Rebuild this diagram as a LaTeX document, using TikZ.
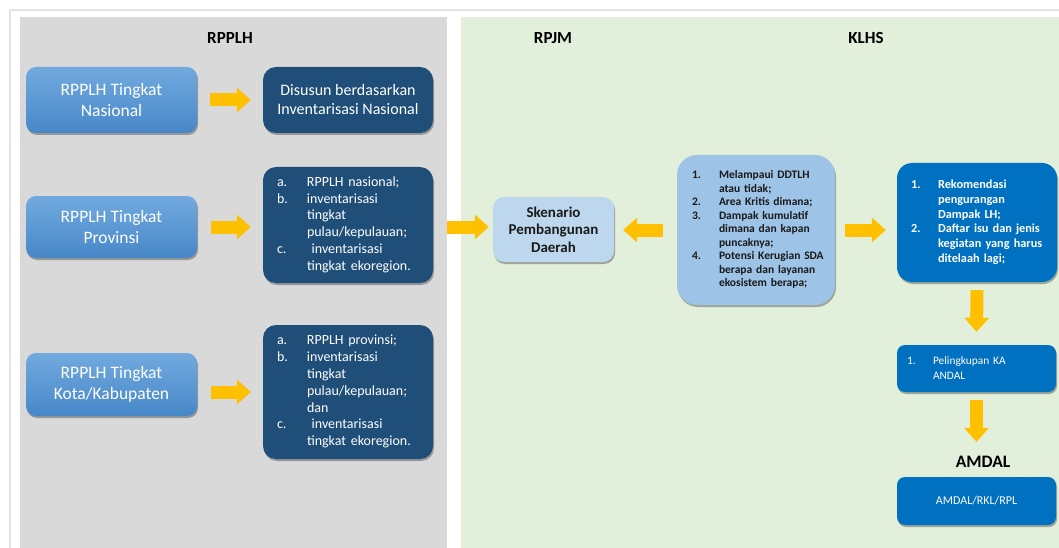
\documentclass[tikz,border=0pt]{standalone}
\usepackage{fontspec}
\setmainfont{Carlito}
\usetikzlibrary{arrows.meta,shadows}
\definecolor{panelgray}{HTML}{D9D9D9}
\definecolor{panelgreen}{HTML}{E2EFDA}
\definecolor{framecol}{HTML}{E3E3E3}
\definecolor{ayellow}{HTML}{FFC000}
\definecolor{dblue}{HTML}{1F4E79}
\definecolor{ltop}{HTML}{72AADF}
\definecolor{lbot}{HTML}{4787C8}
\definecolor{skfill}{HTML}{BDD7EE}
\definecolor{klfill}{HTML}{9DC3E6}
\definecolor{mblue}{HTML}{0070C0}
\definecolor{dtext}{HTML}{1A1A1A}
\begin{document}
\begin{tikzpicture}[x=1pt,y=-1pt,
  shd/.style={drop shadow={shadow xshift=1pt,shadow yshift=-2pt,opacity=0.3,fill=black}},
  lbox/.style={shd,rounded corners=10pt,top color=ltop,bottom color=lbot,draw=none,text=white,
    minimum width=171pt,align=center,inner sep=0pt,font=\fontsize{17.5}{21}\selectfont},
  dbox/.style={shd,rounded corners=13pt,fill=dblue,text=white,minimum width=170pt,inner sep=0pt},
  title/.style={font=\bfseries\fontsize{17}{20}\selectfont,text=black,inner sep=0pt},
  yarr/.style={draw=ayellow,line width=13pt,-{Triangle[width=25pt,length=14pt,line width=0pt]}},
  mbox/.style={shd,fill=mblue,text=white,inner sep=0pt}
]
\useasboundingbox (0,0) rectangle (1059,548);
\fill[white] (0,0) rectangle (1059,548);
\draw[framecol,line width=1.5pt] (10,548) -- (10,10) -- (1059,10);
\fill[panelgray] (20,17) rectangle (447,548);
\fill[panelgreen] (461,17) rectangle (1059,548);

\node[title] (tRPPLH) at (230,38) {RPPLH};
\node[title] (tRPJM) at (553,38) {RPJM};
\node[title] (tKLHS) at (866,38) {KLHS};

% left light boxes
\node[lbox,minimum height=66pt] (n1) at (111.5,100) {RPPLH Tingkat\\Nasional};
\node[lbox,minimum height=62pt] (n2) at (111.5,227) {RPPLH Tingkat\\Provinsi};
\node[lbox,minimum height=63pt] (n3) at (111.5,384.5) {RPPLH Tingkat\\Kota/Kabupaten};

% dark boxes
\node[dbox,minimum height=66pt,align=center,font=\fontsize{16}{19}\selectfont] (bA) at (348,100)
  {Disusun berdasarkan\\Inventarisasi Nasional};
\node[dbox,minimum height=116pt,text width=142pt,inner xsep=14pt,align=left,font=\fontsize{14}{16.8}\selectfont] (bB) at (348,225)
  {\begin{tabular}{@{}p{30pt}@{}l@{}}
  a. & RPPLH nasional;\\
  b. & inventarisasi\\
     & tingkat\\
     & pulau/kepulauan;\\
  c. & \ inventarisasi\\
     & tingkat ekoregion.
  \end{tabular}};
\node[dbox,minimum height=134pt,text width=142pt,inner xsep=14pt,align=left,font=\fontsize{14}{16.8}\selectfont] (bC) at (348,392)
  {\begin{tabular}{@{}p{30pt}@{}l@{}}
  a. & RPPLH provinsi;\\
  b. & inventarisasi\\
     & tingkat\\
     & pulau/kepulauan;\\
     & dan\\
  c. & \ inventarisasi\\
     & tingkat ekoregion.
  \end{tabular}};

% Skenario
\node[shd,rounded corners=11pt,fill=skfill,text=dtext,minimum width=121pt,minimum height=65pt,inner sep=0pt,
  align=center,font=\bfseries\fontsize{15}{17.5}\selectfont] (sk) at (553.5,229.5)
  {Skenario\\Pembangunan\\Daerah};

% KLHS box
\node[shd,rounded corners=20pt,fill=klfill,text=dtext,minimum width=158pt,minimum height=150pt,
  text width=128pt,inner xsep=15pt,inner ysep=0pt,align=left,font=\bfseries\fontsize{11.5}{13.5}\selectfont] (kl) at (756,230)
  {\begin{tabular}{@{}p{27pt}@{}l@{}}
  1. & Melampaui DDTLH\\
     & atau tidak;\\
  2. & Area Kritis dimana;\\
  3. & Dampak kumulatif\\
     & dimana dan kapan\\
     & puncaknya;\\
  4. & Potensi Kerugian SDA\\
     & berapa dan layanan\\
     & ekosistem berapa;
  \end{tabular}};

% right boxes
\node[mbox,rounded corners=15pt,minimum width=160pt,minimum height=119pt,text width=132pt,inner xsep=14pt,
  align=left,font=\bfseries\fontsize{12.3}{14.8}\selectfont] (rt) at (977,222.5)
  {\begin{tabular}{@{}p{27pt}@{}l@{}}
  1. & Rekomendasi\\
     & pengurangan\\
     & Dampak LH;\\
  2. & Daftar isu dan jenis\\
     & kegiatan yang harus\\
     & ditelaah lagi;
  \end{tabular}};
\node[mbox,rounded corners=8pt,minimum width=159pt,minimum height=47pt,text width=139pt,inner xsep=10pt,
  align=left,font=\fontsize{11.4}{15}\selectfont] (pel) at (976.5,368.5)
  {\begin{tabular}{@{}p{26pt}@{}l@{}}
  1. & Pelingkupan KA\\
     & ANDAL
  \end{tabular}};
\node[title,font=\bfseries\fontsize{17.5}{20}\selectfont] (tAMDAL) at (983,462) {AMDAL};
\node[mbox,rounded corners=8pt,minimum width=159pt,minimum height=48pt,font=\fontsize{12}{14}\selectfont] (ab) at (976.5,501)
  {AMDAL/RKL/RPL};

% arrows
\draw[yarr] ([xshift=13pt]n1.east) -- ([xshift=-12pt]bA.west);
\draw[yarr] ([xshift=14pt]n2.east) -- ([xshift=-12pt]n2.east -| bB.west);
\draw[yarr] ([xshift=14pt]n3.east |- bC.west) -- ([xshift=-12pt]bC.west);
\draw[yarr] ([xshift=14pt]bB.east |- n2.east) -- ([xshift=-4pt]sk.west |- n2.east);
\draw[yarr] ([xshift=-14pt]kl.west) -- ([xshift=9pt]kl.west -| sk.east);
\draw[yarr] ([xshift=10pt]kl.east) -- ([xshift=-11pt]kl.east -| rt.west);
\draw[yarr] ([yshift=-8pt]rt.south) -- ([yshift=13pt]pel.north);
\draw[yarr] ([yshift=-8pt]pel.south) -- ([yshift=35pt]ab.north);
\end{tikzpicture}
\end{document}
